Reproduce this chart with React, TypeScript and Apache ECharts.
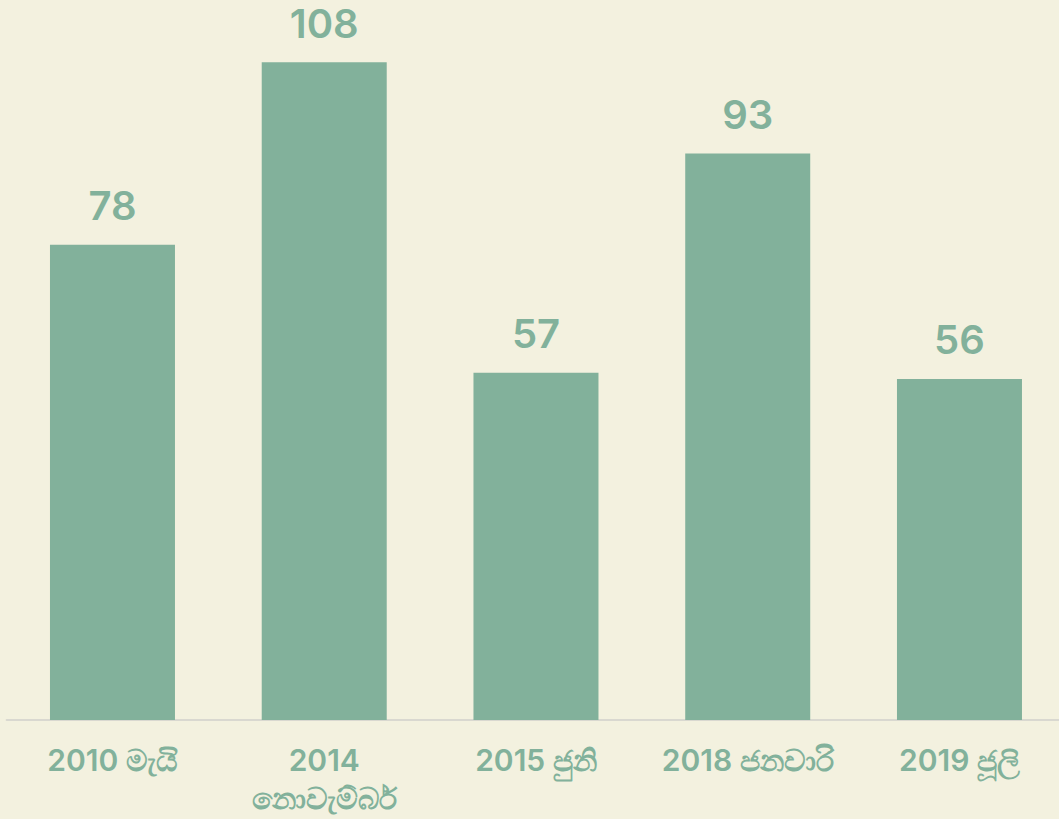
import React, { useEffect, useRef } from "react";
import * as echarts from "echarts";

const categories = ["2010 මැයි", "2014\nනොවැම්බර්", "2015 ජුනි", "2018 ජනවාරි", "2019 ජූලි"];
const values = [78, 108, 57, 93, 56];

const GREEN = "#82b19b";
const BG = "#f3f1df";

export default function App() {
  const ref = useRef<HTMLDivElement>(null);
  useEffect(() => {
    if (!ref.current) return;
    const chart = echarts.init(ref.current, undefined, { renderer: "svg" });
    chart.setOption({
      animation: false,
      backgroundColor: BG,
      grid: { left: 6.6, width: 1058.75, top: 0, bottom: 99, containLabel: false },
      xAxis: {
        type: "category",
        data: categories,
        axisLine: { show: true, lineStyle: { color: "#d9d8d0", width: 2 } },
        axisTick: { show: false },
        axisLabel: {
          color: GREEN,
          fontSize: 30,
          fontWeight: 600,
          fontFamily: "Inter, 'Noto Sans', sans-serif",
          margin: 21,
          lineHeight: 38,
          interval: 0,
        },
      },
      yAxis: {
        type: "value",
        min: 0,
        max: 118.2,
        show: false,
        splitLine: { show: false },
      },
      series: [
        {
          type: "bar",
          data: values,
          barWidth: 125,
          itemStyle: { color: GREEN },
          label: {
            show: true,
            position: "top",
            distance: 19,
            color: GREEN,
            fontSize: 40,
            fontWeight: 600,
            fontFamily: "Inter, 'Noto Sans', sans-serif",
          },
        },
      ],
    });
    return () => chart.dispose();
  }, []);
  return (
    <div style={{ position: "fixed", left: 0, top: 0, width: 1059, height: 819, overflow: "hidden", background: BG }}>
      <div ref={ref} style={{ width: 1080, height: 819 }} />
    </div>
  );
}
